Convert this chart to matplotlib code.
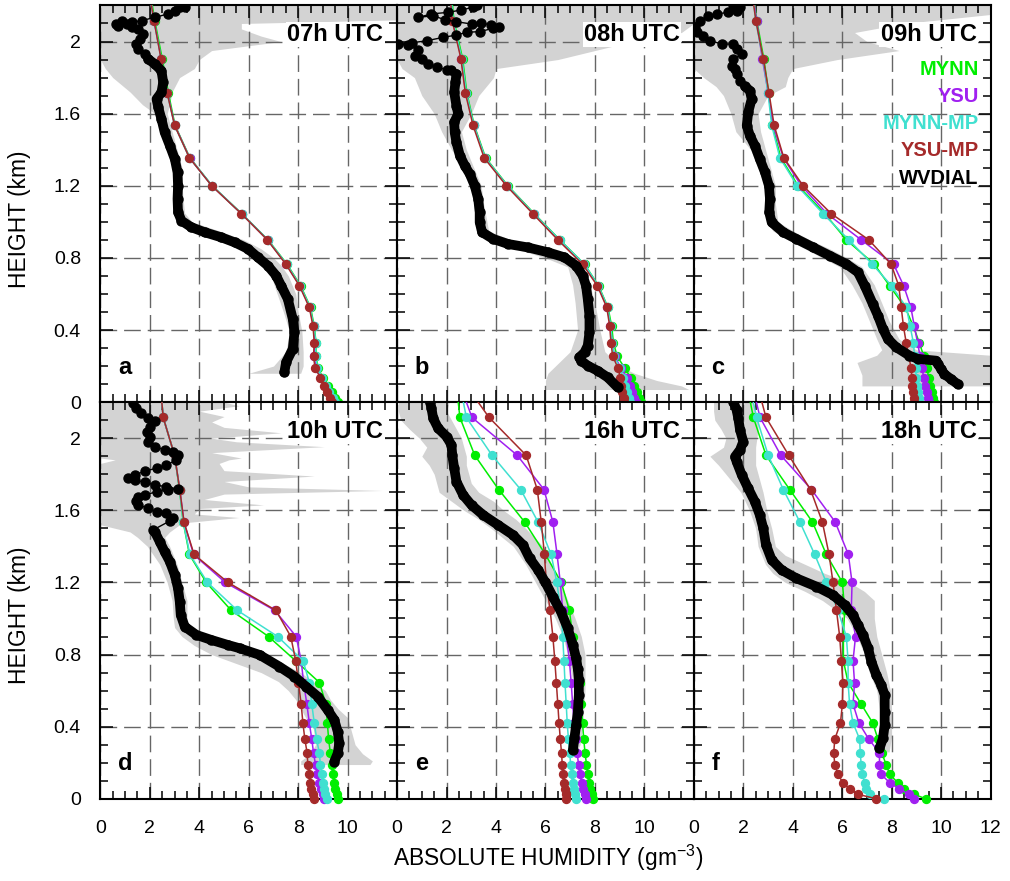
import numpy as np
import matplotlib
matplotlib.use("Agg")
import matplotlib.pyplot as plt
from matplotlib.ticker import MultipleLocator

plt.rcParams['font.family'] = ['Liberation Sans', 'DejaVu Sans']
plt.rcParams['mathtext.default'] = 'regular'

# niveis do modelo (km)
z_model = [0.0, 0.025, 0.055, 0.09, 0.135, 0.19, 0.255, 0.33, 0.42, 0.525, 0.645,
           0.765, 0.90, 1.045, 1.20, 1.355, 1.535, 1.715, 1.905, 2.115, 2.33]

# ---- a) 07h UTC
mynn_a = [9.6, 9.5, 9.35, 9.2, 9.0, 8.8, 8.72, 8.72, 8.65, 8.5, 8.1, 7.55, 6.78, 5.72, 4.52, 3.62, 3.02, 2.75, 2.5, 2.2, 1.95]
ysu_a = [9.45, 9.38, 9.2, 9.08, 8.92, 8.72, 8.65, 8.67, 8.62, 8.47, 8.07, 7.52, 6.76, 5.71, 4.51, 3.61, 3.01, 2.71, 2.46, 2.17, 1.9]
mynnmp_a = [9.5, 9.42, 9.25, 9.12, 8.98, 8.78, 8.7, 8.72, 8.63, 8.48, 8.08, 7.53, 6.77, 5.71, 4.52, 3.6, 3.0, 2.7, 2.46, 2.17, 1.9]
ysump_a = [9.35, 9.3, 9.15, 9.05, 8.9, 8.68, 8.62, 8.65, 8.6, 8.45, 8.05, 7.5, 6.75, 5.7, 4.5, 3.6, 3.0, 2.7, 2.45, 2.17, 1.9]
wv_a_x = [7.44, 7.51, 7.78, 7.85, 7.78, 7.58, 7.31, 7.11, 6.77, 6.37, 5.97, 5.43, 4.89, 4.22, 3.68, 3.28,
          3.14, 3.12, 3.14, 3.12, 3.01, 2.81, 2.6, 2.47, 2.34, 2.27, 2.47, 2.54, 2.47, 2.2, 1.93, 1.8,
          1.53, 1.46, 1.6, 1.73, 1.53, 1.26, 1.06, 0.72, 0.62, 0.86, 1.26, 1.67, 2.2, 2.74, 3.01, 3.21, 3.41]
wv_a_z = [0.165, 0.221, 0.295, 0.387, 0.461, 0.572, 0.646, 0.701, 0.757, 0.803, 0.85, 0.886, 0.914, 0.942,
          0.97, 1.006, 1.053, 1.127, 1.2, 1.274, 1.348, 1.422, 1.496, 1.57, 1.635, 1.681, 1.718, 1.774,
          1.838, 1.875, 1.903, 1.931, 1.959, 1.987, 2.014, 2.042, 2.07, 2.079, 2.097, 2.088, 2.097, 2.116,
          2.107, 2.116, 2.134, 2.153, 2.172, 2.19, 2.19]
env_a_z = [0.16, 0.2, 0.28, 0.39, 0.5, 0.6, 0.7, 0.76, 0.8, 0.85, 0.9, 0.95, 1.0, 1.05, 1.2, 1.3, 1.4, 1.5,
           1.6, 1.65, 1.72, 1.8, 1.85, 1.9, 1.95, 2.0, 2.03, 2.07, 2.1, 2.12, 2.2]
env_a_lo = [6.0, 7.0, 7.5, 7.65, 7.4, 7.15, 6.9, 6.5, 6.1, 5.6, 4.7, 3.7, 3.2, 3.05, 3.05, 2.95, 2.7, 2.4,
            2.2, 1.7, 1.2, 0.5, 0.2, 0.0, 0.0, 0.0, 0.0, 0.0, 0.0, 0.0, 0.0]
env_a_hi = [8.1, 8.2, 8.2, 8.15, 8.0, 7.9, 7.6, 7.3, 7.0, 6.5, 5.8, 4.8, 3.7, 3.4, 3.3, 3.3, 3.1, 2.9,
            2.7, 2.8, 2.9, 3.2, 3.8, 4.0, 4.5, 7.3, 6.5, 5.7, 5.7, 12.0, 12.0]

# ---- b) 08h UTC
mynn_b = [9.86, 9.8, 9.72, 9.6, 9.45, 9.2, 8.9, 8.75, 8.68, 8.53, 8.15, 7.58, 6.58, 5.55, 4.48, 3.58, 3.12, 2.82, 2.65, 2.3, 2.15]
ysu_b = [9.66, 9.6, 9.5, 9.4, 9.3, 9.05, 8.8, 8.7, 8.63, 8.5, 8.12, 7.55, 6.55, 5.52, 4.45, 3.55, 3.1, 2.78, 2.6, 2.25, 2.1]
mynnmp_b = [9.4, 9.36, 9.3, 9.22, 9.15, 9.0, 8.78, 8.7, 8.64, 8.52, 8.14, 7.57, 6.57, 5.53, 4.46, 3.56, 3.1, 2.8, 2.62, 2.27, 2.12]
ysump_b = [9.19, 9.16, 9.11, 9.07, 9.03, 8.93, 8.72, 8.65, 8.6, 8.48, 8.1, 7.5, 6.5, 5.49, 4.42, 3.52, 3.07, 2.76, 2.58, 2.23, 2.1]
wv_b_x = [8.92, 8.52, 8.11, 7.71, 7.44, 7.37, 7.58, 7.71, 7.78, 7.78, 7.71, 7.64, 7.51, 7.24, 6.77, 6.1,
          5.29, 4.49, 3.88, 3.44, 3.34, 3.34, 3.28, 3.14, 2.94, 2.74, 2.54, 2.4, 2.33, 2.31, 2.47, 2.4,
          2.31, 2.36, 2.4, 2.2, 2.0, 1.6, 1.26, 0.99, 0.72, 0.86, 0.45, 0.05, 0.59, 1.19, 1.86, 2.4, 2.81,
          3.34, 3.88, 4.11, 3.81, 3.38, 3.01, 2.4, 1.93, 1.46, 0.86, 1.39, 2.07, 2.6, 3.07, 3.25]
wv_b_z = [0.082, 0.137, 0.174, 0.202, 0.23, 0.248, 0.276, 0.313, 0.387, 0.479, 0.572, 0.646, 0.701, 0.757,
          0.803, 0.831, 0.858, 0.877, 0.905, 0.942, 0.997, 1.053, 1.127, 1.2, 1.265, 1.311, 1.367, 1.441,
          1.496, 1.552, 1.598, 1.644, 1.718, 1.774, 1.82, 1.844, 1.844, 1.857, 1.875, 1.903, 1.921, 1.953,
          1.98, 1.984, 1.993, 2.004, 2.023, 2.036, 2.051, 2.055, 2.073, 2.079, 2.092, 2.103, 2.097, 2.11,
          2.121, 2.143, 2.134, 2.153, 2.162, 2.175, 2.19, 2.202]
env_b_z = [0.07, 0.09, 0.12, 0.16, 0.2, 0.28, 0.4, 0.55, 0.65, 0.75, 0.8, 0.85, 0.9, 0.95, 1.1, 1.2, 1.3,
           1.4, 1.5, 1.6, 1.7, 1.8, 1.85, 1.9, 1.95, 2.0, 2.05, 2.1, 2.2]
env_b_lo = [6.0, 6.0, 6.0, 6.1, 6.4, 7.0, 7.3, 7.2, 7.1, 6.9, 6.0, 4.8, 3.6, 3.2, 3.1, 3.0, 2.7,
            2.2, 1.8, 1.5, 1.0, 0.7, 0.2, 0.0, 0.0, 0.0, 0.0, 0.0, 0.0]
env_b_hi = [11.8, 11.5, 10.5, 9.6, 9.0, 8.4, 8.2, 8.0, 7.8, 7.5, 7.0, 6.2, 4.6, 3.7, 3.5, 3.4, 3.1,
            2.8, 2.6, 3.0, 3.3, 3.9, 4.0, 6.5, 8.0, 9.5, 11.5, 12.0, 12.0]

# ---- c) 09h UTC
mynn_c = [9.72, 9.67, 9.62, 9.56, 9.5, 9.43, 9.3, 9.12, 8.88, 8.55, 7.92, 7.3, 6.17, 5.3, 4.22, 3.52, 3.18, 3.03, 2.83, 2.55, 2.35]
ysu_c = [9.5, 9.48, 9.42, 9.37, 9.3, 9.23, 9.15, 9.05, 8.92, 8.78, 8.49, 8.08, 6.77, 5.39, 4.35, 3.62, 3.21, 3.01, 2.77, 2.54, 2.33]
mynnmp_c = [9.12, 9.1, 9.06, 9.03, 9.0, 8.97, 8.93, 8.88, 8.75, 8.6, 8.0, 7.22, 6.27, 5.23, 4.18, 3.48, 3.15, 3.0, 2.8, 2.5, 2.33]
ysump_c = [8.92, 8.9, 8.86, 8.83, 8.82, 8.79, 8.69, 8.59, 8.48, 8.39, 8.29, 7.98, 7.08, 5.56, 4.42, 3.64, 3.25, 3.04, 2.81, 2.51, 2.3]
wv_c_x = [10.67, 10.4, 10.13, 10.0, 9.87, 9.8, 9.06, 8.72, 8.19, 7.85, 7.65, 7.45, 7.24, 6.91, 6.64, 6.17,
          5.5, 4.83, 4.15, 3.62, 3.15, 3.05, 3.08, 3.04, 2.88, 2.67, 2.47, 2.27, 2.14, 2.2, 2.34, 2.27,
          2.07, 1.87, 1.73, 1.67, 1.53, 1.6, 1.94, 1.73, 1.6, 1.13, 0.66, 0.39, 0.12, 0.05, 0.26, 0.59,
          0.93, 1.4, 1.73, 1.87, 1.6]
wv_c_z = [0.1, 0.128, 0.156, 0.184, 0.211, 0.23, 0.24, 0.258, 0.304, 0.35, 0.406, 0.479, 0.544, 0.646,
          0.72, 0.766, 0.812, 0.858, 0.905, 0.942, 0.997, 1.053, 1.127, 1.2, 1.274, 1.348, 1.422, 1.478,
          1.533, 1.607, 1.681, 1.727, 1.751, 1.783, 1.82, 1.848, 1.866, 1.903, 1.931, 1.958, 1.986, 1.986,
          2.005, 2.033, 2.051, 2.079, 2.116, 2.143, 2.153, 2.162, 2.171, 2.19, 2.2]
env_c_z = [0.09, 0.15, 0.22, 0.26, 0.29, 0.35, 0.45, 0.55, 0.65, 0.75, 0.8, 0.85, 0.9, 0.95, 1.0, 1.1,
           1.2, 1.3, 1.4, 1.5, 1.6, 1.7, 1.75, 1.8, 1.85, 1.9, 1.95, 2.0, 2.05, 2.1, 2.15, 2.2]
env_c_lo = [6.8, 6.8, 6.6, 7.4, 7.6, 7.4, 7.1, 6.8, 6.4, 5.9, 5.2, 4.5, 3.8, 3.2, 2.95, 2.9,
            2.85, 2.6, 2.3, 1.7, 1.5, 1.2, 0.9, 0.4, 0.0, 0.0, 0.0, 0.0, 0.0, 0.0, 0.0, 0.0]
env_c_hi = [12.0, 12.0, 12.0, 12.0, 9.0, 8.3, 7.9, 7.6, 7.3, 6.8, 6.2, 5.5, 4.7, 4.0, 3.4, 3.3,
            3.3, 3.1, 2.9, 2.7, 2.6, 3.0, 3.7, 3.8, 4.0, 5.8, 8.3, 7.0, 6.5, 8.5, 12.0, 12.0]

# ---- d) 10h UTC
mynn_d = [9.6, 9.55, 9.5, 9.45, 9.4, 9.35, 9.3, 9.23, 9.18, 9.12, 8.86, 7.9, 6.8, 5.29, 4.28, 3.6, 3.35, 3.2, 3.0, 2.54, 2.4]
ysu_d = [9.06, 9.0, 8.92, 8.85, 8.78, 8.7, 8.62, 8.55, 8.45, 8.35, 8.22, 8.12, 7.92, 7.05, 5.05, 3.77, 3.38, 3.21, 3.0, 2.54, 2.4]
mynnmp_d = [9.15, 9.1, 9.06, 9.0, 8.95, 8.9, 8.85, 8.75, 8.65, 8.55, 8.45, 8.2, 7.17, 5.54, 4.33, 3.62, 3.35, 3.2, 3.0, 2.54, 2.4]
ysump_d = [8.62, 8.59, 8.53, 8.48, 8.45, 8.39, 8.36, 8.27, 8.19, 8.12, 8.01, 7.9, 7.7, 7.1, 5.16, 3.79, 3.38, 3.21, 3.0, 2.54, 2.4]
wv_d_x = [9.46, 9.6, 9.66, 9.6, 9.46, 9.19, 8.79, 8.32, 7.85, 7.24, 6.44, 5.63, 5.16, 4.49, 3.88, 3.41,
          3.25, 3.21, 3.14, 3.01, 2.81, 2.6, 2.4, 2.2, 2.13, 2.81, 2.94, 2.67, 2.27, 1.93, 1.53, 1.42,
          1.53, 1.8, 2.27, 2.74, 3.14, 2.67, 2.2, 1.8, 1.4, 1.13, 1.4, 1.8, 2.27, 2.67, 3.07, 3.14, 2.94,
          2.6, 2.2, 1.93, 2.0, 1.87, 2.0, 2.2, 1.93, 1.66, 1.46, 1.33]
wv_d_z = [0.206, 0.253, 0.308, 0.372, 0.438, 0.493, 0.567, 0.622, 0.678, 0.733, 0.798, 0.835, 0.853,
          0.881, 0.909, 0.955, 1.019, 1.093, 1.167, 1.241, 1.315, 1.37, 1.426, 1.481, 1.491, 1.541, 1.556,
          1.584, 1.589, 1.611, 1.63, 1.652, 1.676, 1.685, 1.703, 1.713, 1.718, 1.731, 1.741, 1.755, 1.768,
          1.777, 1.796, 1.818, 1.833, 1.851, 1.879, 1.907, 1.922, 1.935, 1.953, 1.981, 2.009, 2.036, 2.064,
          2.095, 2.11, 2.138, 2.169, 2.193]
env_d_z = [0.19, 0.21, 0.25, 0.3, 0.4, 0.45, 0.5, 0.55, 0.6, 0.65, 0.7, 0.75, 0.8, 0.85, 0.9, 0.95, 1.0,
           1.1, 1.2, 1.3, 1.4, 1.45, 1.48, 1.5, 1.52, 1.53, 1.56, 1.58, 1.61, 1.63, 1.66, 1.69, 1.71, 1.73,
           1.76, 1.79, 1.82, 1.86, 1.88, 1.89, 1.92, 1.953, 1.98, 2.0, 2.03, 2.06, 2.09, 2.12, 2.15, 2.18, 2.2]
env_d_lo = [8.1, 8.1, 8.5, 8.7, 8.6, 8.3, 8.1, 7.9, 7.6, 7.2, 6.5, 5.5, 4.5, 3.8, 3.3, 3.0, 2.95,
            2.9, 2.7, 2.4, 1.9, 1.5, 1.2, 0.6, 0.0, 0.0, 0.0, 0.0, 0.0, 0.0, 0.0, 0.0, 0.0, 0.0,
            0.0, 0.0, 0.0, 0.0, 0.6, 0.0, 0.0, 0.0, 0.0, 0.0, 0.0, 0.0, 0.0, 0.0, 0.0, 0.0, 0.0]
env_d_hi = [10.9, 11.0, 10.6, 10.3, 10.1, 10.0, 9.6, 9.3, 9.1, 8.6, 8.1, 7.4, 6.5, 5.5, 4.2, 3.6, 3.5,
            3.5, 3.3, 3.1, 2.8, 2.6, 2.8, 3.0, 3.2, 3.3, 5.6, 3.8, 4.0, 6.6, 4.2, 5.0, 11.4, 6.0,
            5.0, 8.65, 5.0, 4.8, 5.2, 5.7, 4.5, 9.05, 5.5, 4.5, 7.3, 5.0, 4.5, 5.0, 4.0, 5.6, 5.0]

# ---- e) 16h UTC
mynn_e = [7.91, 7.87, 7.82, 7.77, 7.72, 7.66, 7.6, 7.55, 7.5, 7.45, 7.38, 7.24, 7.1, 6.97, 6.64, 6.0, 5.16, 4.11, 3.14, 2.54, 2.37]
ysu_e = [7.62, 7.58, 7.52, 7.46, 7.4, 7.34, 7.28, 7.22, 7.16, 7.1, 7.04, 6.97, 6.85, 6.7, 6.6, 6.47, 6.3, 5.94, 4.86, 3.03, 2.45]
mynnmp_e = [7.24, 7.2, 7.15, 7.1, 7.06, 7.02, 6.98, 6.93, 6.88, 6.84, 6.79, 6.75, 6.7, 6.62, 6.46, 6.23, 5.7, 5.0, 3.84, 2.8, 2.5]
ysump_e = [6.84, 6.82, 6.79, 6.74, 6.7, 6.68, 6.65, 6.6, 6.55, 6.5, 6.44, 6.38, 6.3, 6.19, 6.03, 5.96, 5.83, 5.67, 5.22, 3.72, 2.6]
wv_e_x = [7.11, 7.17, 7.24, 7.31, 7.35, 7.35, 7.31, 7.24, 7.11, 6.9, 6.62, 6.3, 6.0, 5.7, 5.36, 5.09,
          4.69, 4.08, 3.48, 3.01, 2.67, 2.4, 2.31, 2.23, 2.2, 2.0, 1.66, 1.46, 1.39, 1.33]
wv_e_z = [0.271, 0.335, 0.409, 0.483, 0.576, 0.66, 0.72, 0.78, 0.853, 0.946, 1.04, 1.12, 1.2, 1.27, 1.334,
          1.408, 1.463, 1.519, 1.574, 1.629, 1.685, 1.759, 1.833, 1.907, 1.962, 2.009, 2.055, 2.11, 2.166, 2.203]
env_e_z = [0.25, 0.3, 0.4, 0.5, 0.6, 0.7, 0.8, 0.9, 1.0, 1.1, 1.2, 1.3, 1.4, 1.5, 1.55, 1.6, 1.65, 1.7,
           1.75, 1.8, 1.85, 1.9, 1.95, 2.0, 2.05, 2.1, 2.15, 2.2]
env_e_lo = [6.9, 7.0, 7.1, 7.15, 7.15, 7.05, 6.9, 6.7, 6.4, 6.0, 5.6, 5.2, 4.7, 3.8, 3.3, 2.7, 2.2, 1.7,
            1.6, 1.5, 1.3, 1.0, 1.2, 0.9, 0.5, 0.15, 0.05, 0.05]
env_e_hi = [7.2, 7.4, 7.5, 7.55, 7.6, 7.6, 7.6, 7.45, 7.2, 6.9, 6.6, 6.25, 5.9, 5.2, 4.8, 4.3, 3.9, 3.3,
            3.0, 2.9, 2.8, 2.8, 2.7, 2.6, 2.4, 2.2, 2.0, 2.1]

# ---- f) 18h UTC
mynn_f = [9.39, 8.9, 8.52, 8.25, 7.92, 7.78, 7.6, 7.45, 7.24, 6.77, 6.24, 6.05, 6.05, 6.1, 6.01, 5.36, 4.8, 3.88, 2.92, 2.41, 2.1]
ysu_f = [8.9, 8.7, 8.3, 7.92, 7.58, 7.51, 7.51, 7.08, 6.68, 6.44, 6.5, 6.44, 6.54, 6.37, 6.4, 6.25, 5.72, 4.76, 3.52, 2.68, 2.3]
mynnmp_f = [7.71, 7.11, 6.97, 6.91, 6.81, 6.77, 6.73, 6.71, 6.44, 6.3, 6.24, 6.24, 6.17, 5.83, 5.36, 4.89, 4.29, 3.62, 3.01, 2.54, 2.2]
ysump_f = [7.38, 6.64, 6.3, 6.03, 5.83, 5.7, 5.66, 5.7, 5.93, 6.01, 6.03, 5.97, 5.9, 5.77, 5.63, 5.47, 5.2, 4.72, 3.84, 2.92, 2.5]
wv_f_x = [7.51, 7.65, 7.72, 7.72, 7.72, 7.58, 7.38, 7.18, 7.05, 6.84, 6.64, 6.44, 6.1, 5.63, 4.96, 4.15,
          3.55, 3.15, 2.92, 2.81, 2.67, 2.47, 2.2, 1.94, 1.73, 1.67, 1.87, 2.0, 1.87, 1.8, 1.73, 1.6]
wv_f_z = [0.28, 0.335, 0.409, 0.483, 0.576, 0.631, 0.687, 0.761, 0.835, 0.909, 0.964, 1.019, 1.075, 1.13,
          1.177, 1.223, 1.269, 1.325, 1.408, 1.5, 1.574, 1.648, 1.722, 1.796, 1.87, 1.898, 1.935, 1.981,
          2.046, 2.11, 2.156, 2.203]
env_f_z = [0.26, 0.35, 0.5, 0.6, 0.7, 0.8, 0.9, 1.0, 1.05, 1.1, 1.15, 1.2, 1.25, 1.3, 1.35, 1.4, 1.5,
           1.6, 1.7, 1.75, 1.8, 1.85, 1.9, 1.95, 2.0, 2.05, 2.1, 2.15, 2.2]
env_f_lo = [7.3, 7.5, 7.5, 7.4, 7.1, 6.9, 6.6, 6.2, 5.7, 5.2, 4.5, 3.7, 3.2, 2.9, 2.75, 2.6, 2.5,
            2.25, 1.9, 1.6, 1.3, 1.0, 0.65, 1.2, 1.3, 1.1, 0.85, 0.8, 0.8]
env_f_hi = [7.9, 8.0, 8.0, 7.95, 7.8, 7.6, 7.4, 7.3, 7.3, 7.3, 6.9, 6.3, 5.3, 4.5, 3.7, 3.3, 3.15,
            2.95, 2.8, 2.7, 2.6, 2.5, 2.5, 2.5, 2.55, 2.6, 2.6, 2.5, 2.4]

horas = ['07h UTC', '08h UTC', '09h UTC', '10h UTC', '16h UTC', '18h UTC']
letras = ['a', 'b', 'c', 'd', 'e', 'f']
nomes = ['MYNN', 'YSU', 'MYNN-MP', 'YSU-MP', 'WVDIAL']
cores = ['#00ee00', '#a020f0', '#40e0d0', '#a52a2a', 'black']
# altura ate onde o perfil WVDIAL aparece como faixa continua
topo_grosso = [1.92, 1.83, 1.77, 1.49, 2.3, 2.3]

modelos = [
    [mynn_a, ysu_a, mynnmp_a, ysump_a],
    [mynn_b, ysu_b, mynnmp_b, ysump_b],
    [mynn_c, ysu_c, mynnmp_c, ysump_c],
    [mynn_d, ysu_d, mynnmp_d, ysump_d],
    [mynn_e, ysu_e, mynnmp_e, ysump_e],
    [mynn_f, ysu_f, mynnmp_f, ysump_f],
]
wvdial = [(wv_a_x, wv_a_z), (wv_b_x, wv_b_z), (wv_c_x, wv_c_z),
          (wv_d_x, wv_d_z), (wv_e_x, wv_e_z), (wv_f_x, wv_f_z)]
envelopes = [(env_a_z, env_a_lo, env_a_hi), (env_b_z, env_b_lo, env_b_hi),
             (env_c_z, env_c_lo, env_c_hi), (env_d_z, env_d_lo, env_d_hi),
             (env_e_z, env_e_lo, env_e_hi), (env_f_z, env_f_lo, env_f_hi)]

fig, axs = plt.subplots(2, 3, figsize=(10.1, 8.81), dpi=100)
fig.subplots_adjust(left=0.0994, right=0.9807, bottom=0.0933, top=0.9938, wspace=0, hspace=0)

z = np.array(z_model)
dentro = z <= 2.2

for i, ax in enumerate(axs.flat):
    row, col = divmod(i, 3)
    ez, elo, ehi = envelopes[i]
    ax.fill_betweenx(ez, elo, ehi, color='#d3d3d3', lw=0, zorder=1)

    for serie, cor in zip(modelos[i], cores[:4]):
        v = np.array(serie)
        ax.plot(v, z, color=cor, lw=1.1, zorder=3)
        ax.plot(v[dentro], z[dentro], 'o', color=cor, ms=5.7, zorder=3, clip_on=False)

    wx, wz = np.array(wvdial[i][0]), np.array(wvdial[i][1])
    n = np.argmax(wz > topo_grosso[i]) if (wz > topo_grosso[i]).any() else len(wz)
    ax.plot(wx[:n], wz[:n], color='black', lw=7, solid_capstyle='round', zorder=4)
    ax.plot(wx, wz, color='black', lw=1, marker='o', ms=6.5, zorder=4)

    ax.set_xlim(0, 12)
    ax.set_ylim(0, 2.2)
    ax.set_xticks(range(0, 13, 2))
    ax.set_yticks([0, 0.4, 0.8, 1.2, 1.6, 2.0])
    ax.xaxis.set_minor_locator(MultipleLocator(0.5))
    ax.yaxis.set_minor_locator(MultipleLocator(0.1))
    ax.tick_params(which='both', direction='in', top=True, right=True, width=1.1)
    ax.tick_params(which='major', length=9, labelsize=14)
    ax.tick_params(which='minor', length=5.5)
    ax.tick_params(axis='x', pad=15)
    ax.tick_params(axis='y', pad=14)
    ax.set_axisbelow('line')
    ax.grid(True, which='major', color='#666666', lw=1, linestyle=(0, (12, 5)))
    for s in ax.spines.values():
        s.set_linewidth(1.5)

    if col == 0:
        ax.set_yticklabels(['0', '0.4', '0.8', '1.2', '1.6', '2'])
    else:
        ax.set_yticklabels([])
    if row == 1:
        rotulos = ['0', '2', '4', '6', '8', '10', '12' if col == 2 else '']
        ax.set_xticklabels(rotulos)
    else:
        ax.set_xticklabels([])

    ax.text(0.953, 0.927, horas[i], transform=ax.transAxes, ha='right', va='center',
            fontsize=17, fontweight='bold', zorder=6,
            bbox=dict(facecolor='white', edgecolor='none', pad=1))
    ax.text(0.06, 0.072, letras[i], transform=ax.transAxes, ha='left', va='baseline',
            fontsize=17, fontweight='bold', zorder=6)

# legenda no painel c
for k, (nome, cor) in enumerate(zip(nomes, cores)):
    axs[0, 2].text(0.96, 0.839 - 0.0685 * k, nome, transform=axs[0, 2].transAxes,
                   ha='right', va='center', color=cor, fontsize=14.5, fontweight='bold', zorder=6)

fig.text(0.5426, 0.026, 'ABSOLUTE HUMIDITY (gm$^{-3}$)', ha='center', va='center', fontsize=16.4)
for row in range(2):
    pos = axs[row, 0].get_position()
    fig.text(0.019, (pos.y0 + pos.y1) / 2 - 0.017, 'HEIGHT (km)', rotation=90,
             ha='center', va='center', fontsize=16.4)

fig.savefig('out.png', dpi=100)
